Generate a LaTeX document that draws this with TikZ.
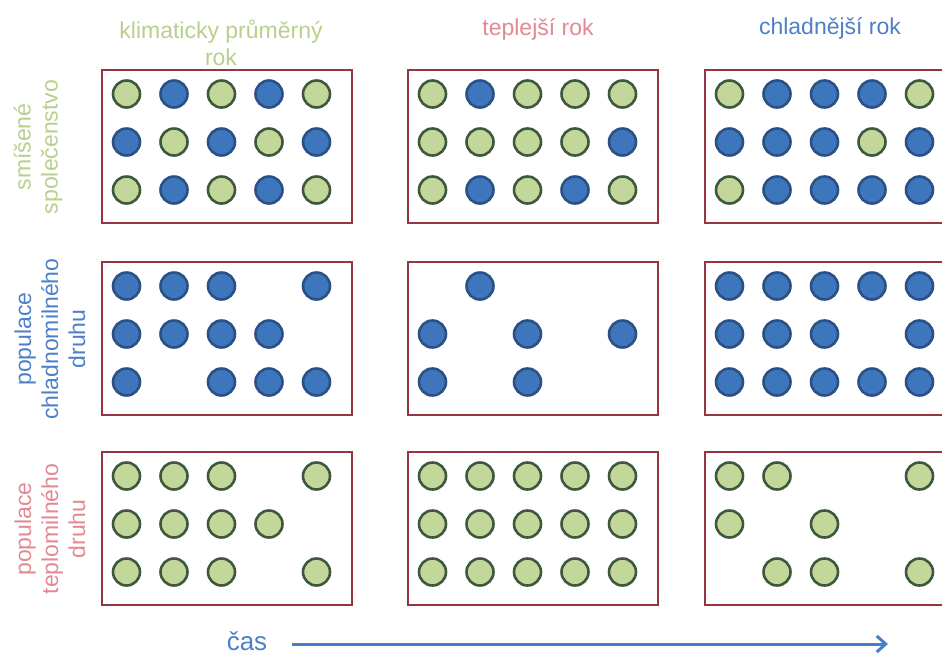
\documentclass[tikz,border=0pt]{standalone}
\usepackage{fontspec}
\setmainfont{Liberation Sans}
\usetikzlibrary{arrows.meta}

\definecolor{gfill}{RGB}{196,215,155}
\definecolor{gline}{RGB}{62,88,62}
\definecolor{bfill}{RGB}{62,118,190}
\definecolor{bline}{RGB}{42,80,132}
\definecolor{framered}{RGB}{150,52,66}
\definecolor{greentxt}{RGB}{185,208,140}
\definecolor{redtxt}{RGB}{226,138,148}
\definecolor{bluetxt}{RGB}{78,128,200}
\definecolor{arrowblue}{RGB}{70,128,200}

\tikzset{
  panel/.style={draw=framered, line width=2.2pt},
  gdot/.style={fill=gfill, draw=gline, line width=2.6pt},
  bdot/.style={fill=bfill, draw=bline, line width=2.6pt},
  label/.style={inner sep=0pt, align=center, font=\fontsize{23}{27}\selectfont},
}

% dots of one panel, given as col/row pairs
\newcommand{\greendots}[3]{%
  \foreach \c/\r in {#3}
    \filldraw[gdot] (#1+24.5+47.5*\c, #2+24+48*\r) circle (13.5pt);}
\newcommand{\bluedots}[3]{%
  \foreach \c/\r in {#3}
    \filldraw[bdot] (#1+24.5+47.5*\c, #2+24+48*\r) circle (13.5pt);}

\begin{document}
\begin{tikzpicture}[x=1pt, y=-1pt]
    \useasboundingbox[fill=white] (0,0) rectangle (942,657);

    % column titles
    \node[label, text=greentxt] (avg) at (221,42.5) {klimaticky průměrný\\rok};
    \node[label, text=redtxt, anchor=base] (warm) at (538,35) {teplejší rok};
    \node[label, text=bluetxt, anchor=base] (cold) at (830,34) {chladnější rok};

    % row titles
    \node[label, text=greentxt, rotate=90] (mixed) at (38,147) {smíšené\\společenstvo};
    \node[label, text=bluetxt, rotate=90] (coldpop) at (50,339) {populace\\chladnomilného\\druhu};
    \node[label, text=redtxt, rotate=90] (warmpop) at (50,529) {populace\\teplomilného\\druhu};

    % frames
    \foreach \px in {102,408,705} {
        \foreach \py in {70,262,452} {
            \draw[panel] (\px,\py) rectangle ++(250,153);
        }
    }

    % mixed community
    \greendots{102}{70}{0/0,2/0,4/0,1/1,3/1,0/2,2/2,4/2}
    \bluedots{102}{70}{1/0,3/0,0/1,2/1,4/1,1/2,3/2}
    \greendots{408}{70}{0/0,2/0,3/0,4/0,0/1,1/1,2/1,3/1,0/2,2/2,4/2}
    \bluedots{408}{70}{1/0,4/1,1/2,3/2}
    \greendots{705}{70}{0/0,4/0,3/1,0/2}
    \bluedots{705}{70}{1/0,2/0,3/0,0/1,1/1,2/1,4/1,1/2,2/2,3/2,4/2}

    % cold-loving species
    \bluedots{102}{262}{0/0,1/0,2/0,4/0,0/1,1/1,2/1,3/1,0/2,2/2,3/2,4/2}
    \bluedots{408}{262}{1/0,0/1,2/1,4/1,0/2,2/2}
    \bluedots{705}{262}{0/0,1/0,2/0,3/0,4/0,0/1,1/1,2/1,4/1,0/2,1/2,2/2,3/2,4/2}

    % warm-loving species
    \greendots{102}{452}{0/0,1/0,2/0,4/0,0/1,1/1,2/1,3/1,0/2,1/2,2/2,4/2}
    \greendots{408}{452}{0/0,1/0,2/0,3/0,4/0,0/1,1/1,2/1,3/1,4/1,0/2,1/2,2/2,3/2,4/2}
    \greendots{705}{452}{0/0,1/0,4/0,0/1,2/1,1/2,2/2,4/2}

    % time axis
    \node[label, text=bluetxt, font=\fontsize{26}{30}\selectfont, anchor=base] (time) at (247,650) {čas};
    \coordinate (tstart) at (292,644);
    \coordinate (tend) at (888,644);
    \draw[arrowblue, line width=3pt, -{Straight Barb[length=9pt, width=16pt]}] (tstart) -- (tend);
\end{tikzpicture}
\end{document}
